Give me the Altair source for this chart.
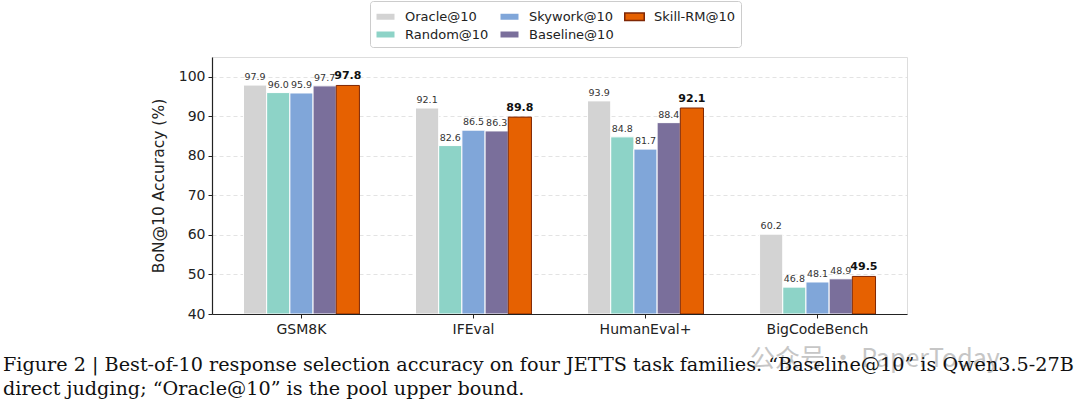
import altair as alt
import pandas as pd

tasks = ["GSM8K", "IFEval", "HumanEval+", "BigCodeBench"]
series = ["Oracle@10", "Random@10", "Skywork@10", "Baseline@10", "Skill-RM@10"]
oracle = [97.9, 92.1, 93.9, 60.2]
random_ = [96.0, 82.6, 84.8, 46.8]
skywork = [95.9, 86.5, 81.7, 48.1]
baseline = [97.7, 86.3, 88.4, 48.9]
skillrm = [97.8, 89.8, 92.1, 49.5]
colors = ["#d3d3d3", "#8dd3c7", "#80a6d9", "#7a6f9b", "#e66101"]
edges = ["#ffffff", "#ffffff", "#ffffff", "#ffffff", "#7f2704"]
y_ticks = [40, 50, 60, 70, 80, 90, 100]
caption = [
    "Figure 2 | Best-of-10 response selection accuracy on four JETTS task families. \u201cBaseline@10\u201d is Qwen3.5-27B",
    "direct judging; \u201cOracle@10\u201d is the pool upper bound.",
]
watermark = "\u516c\u4f17\u53f7 \u00b7 PaperToday"

rows = []
for s, vals in zip(series, [oracle, random_, skywork, baseline, skillrm]):
    for t, v in zip(tasks, vals):
        rows.append({"task": t, "series": s, "value": v, "label": f"{v:.1f}"})
df = pd.DataFrame(rows)

# legend order (row-wise fill to mimic column-major legend)
legend_order = ["Oracle@10", "Skywork@10", "Skill-RM@10", "Random@10", "Baseline@10"]
cmap = dict(zip(series, colors))
emap = dict(zip(series, edges))

color_scale = alt.Scale(domain=legend_order, range=[cmap[s] for s in legend_order])
stroke_scale = alt.Scale(domain=legend_order, range=[emap[s] for s in legend_order])

x_enc = alt.X("task:N", sort=tasks,
              scale=alt.Scale(paddingInner=0.326, paddingOuter=0.183),
              axis=alt.Axis(title=None, labelAngle=0, labelFontSize=14, labelFont="DejaVu Sans",
                            labelColor="#222", tickSize=4, tickColor="#222", labelPadding=4,
                            domainColor="#222", domainWidth=1.2, grid=False))
xo_enc = alt.XOffset("series:N", sort=series, scale=alt.Scale(paddingInner=0, paddingOuter=0))
y_scale = alt.Scale(domain=[40, 105], nice=False, clamp=False)

base = alt.Chart(df)

bars = base.mark_bar(clip=True).encode(
    x=x_enc,
    xOffset=xo_enc,
    y=alt.Y("value:Q", scale=y_scale,
            axis=alt.Axis(values=y_ticks, title="BoN@10 Accuracy (%)", titleFontSize=15.5,
                          titleFont="DejaVu Sans", titleFontWeight="normal", titleColor="#222",
                          titlePadding=12, labelFontSize=14, labelFont="DejaVu Sans",
                          labelColor="#222", tickSize=4, tickColor="#222", labelPadding=3,
                          domainColor="#222", domainWidth=1.2, grid=True, gridDash=[4, 3],
                          gridColor="#dcdcdc", gridWidth=0.8)),
    y2=alt.datum(40),
    color=alt.Color("series:N", scale=color_scale,
                    legend=alt.Legend(title=None, orient="none", legendX=158, legendY=-56,
                                      columns=3, direction="horizontal",
                                      symbolType="M-1,-0.38L1,-0.38L1,0.38L-1,0.38Z",
                                      symbolSize=380, symbolStrokeWidth=1.5,
                                      labelFontSize=13, labelFont="DejaVu Sans", labelColor="#222",
                                      labelOffset=9, columnPadding=7, rowPadding=0,
                                      strokeColor="#cccccc", padding=5, cornerRadius=3,
                                      fillColor="white")),
    stroke=alt.Stroke("series:N", scale=stroke_scale, legend=None),
    strokeWidth=alt.StrokeWidth("series:N", scale=alt.Scale(domain=series, range=[1, 1, 1, 1, 2.2]),
                                legend=None),
)

labels = base.transform_filter(alt.datum.series != "Skill-RM@10").mark_text(
    baseline="bottom", dy=-3, fontSize=9.5, font="DejaVu Sans", color="#333"
).encode(x=alt.X("task:N", sort=tasks), xOffset=xo_enc, y=alt.Y("value:Q"), text="label:N")

labels_b = base.transform_filter(alt.datum.series == "Skill-RM@10").mark_text(
    baseline="bottom", dy=-4, fontSize=11, font="DejaVu Sans", fontWeight="bold", color="#111"
).encode(x=alt.X("task:N", sort=tasks), xOffset=xo_enc, y=alt.Y("value:Q"), text="label:N")

wm = alt.Chart(pd.DataFrame({"t": [watermark]})).mark_text(
    align="left", baseline="middle", fontSize=25, font="Noto Sans CJK SC", color="#999999", opacity=0.55
).encode(text="t:N", x=alt.value(538), y=alt.value(302))

chart = alt.layer(bars, labels, labels_b, wm).properties(
    width=695, height=257,
    autosize=alt.AutoSizeParams(type="none"),
    padding={"left": 212, "top": 57, "right": 173, "bottom": 88},
    title=alt.TitleParams(text=caption, orient="bottom", anchor="start", frame="group",
                          font="DejaVu Serif", fontSize=19.2, fontWeight="normal", color="#111",
                          dx=-209, dy=-24, offset=8, lineHeight=23.5),
).configure_view(stroke=None).configure(background="white")

chart.save("out.html", embed_options={"renderer": "svg", "actions": False})
